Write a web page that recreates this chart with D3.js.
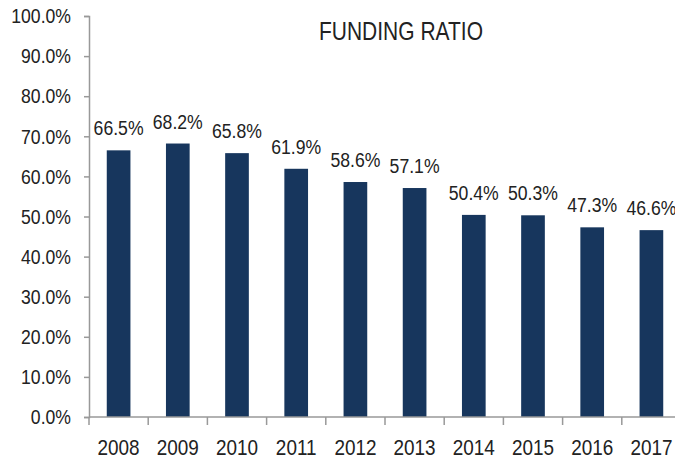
<!DOCTYPE html>
<html>
<head>
<meta charset="utf-8">
<title>Funding Ratio</title>
<script src="https://d3js.org/d3.v7.min.js"></script>
<style>
  body { margin: 0; background: #fff; }
  text { font-family: "Liberation Sans Narrow", "Arial Narrow", "Liberation Sans", sans-serif; fill: #222; }
</style>
</head>
<body>
<div id="chart"></div>
<script>
// data
const years = ["2008", "2009", "2010", "2011", "2012", "2013", "2014", "2015", "2016", "2017"];
const ratios = [66.5, 68.2, 65.8, 61.9, 58.6, 57.1, 50.4, 50.3, 47.3, 46.6];
const yTicks = [0, 10, 20, 30, 40, 50, 60, 70, 80, 90, 100];

const W = 675, H = 460;
const margin = {top: 16, right: -6, bottom: 43, left: 89};
const squeeze = 0.84; // condensed look of the original font

const svg = d3.select("#chart").append("svg")
    .attr("width", W).attr("height", H);

const x = d3.scaleBand()
    .domain(years)
    .range([margin.left, W - margin.right])
    .paddingInner(0.6).paddingOuter(0.3);

const y = d3.scaleLinear()
    .domain([0, 100])
    .range([H - margin.bottom, margin.top]);

const rows = years.map((d, i) => ({year: d, v: ratios[i]}));

// bars
svg.selectAll("rect.bar")
    .data(rows)
    .join("rect")
    .attr("class", "bar")
    .attr("x", d => x(d.year))
    .attr("y", d => y(d.v))
    .attr("width", x.bandwidth())
    .attr("height", d => y(0) - y(d.v))
    .attr("fill", "#17365d");

// value labels
svg.selectAll("text.val")
    .data(rows)
    .join("text")
    .attr("class", "val")
    .attr("transform", d => `translate(${x(d.year) + x.bandwidth() / 2},${y(d.v) - 15}) scale(${squeeze},1)`)
    .attr("text-anchor", "middle")
    .style("font-size", "21px")
    .text(d => d.v.toFixed(1) + "%");

// y axis
const yAxis = svg.append("g")
    .attr("transform", `translate(${margin.left},0)`)
    .call(d3.axisLeft(y).tickValues(yTicks).tickSize(5)
        .tickFormat(d => d.toFixed(1) + "%"));
yAxis.select(".domain").attr("stroke", "#999").attr("stroke-width", 1.5);
yAxis.selectAll(".tick line").attr("stroke", "#999").attr("stroke-width", 1.5);
yAxis.selectAll(".tick text")
    .attr("x", -18 / squeeze)
    .attr("transform", `scale(${squeeze},1)`)
    .style("font-size", "21px").attr("fill", "#222");

// x axis, ticks at band boundaries
const step = x.step();
const xAxis = svg.append("g")
    .attr("transform", `translate(0,${y(0)})`);
xAxis.append("line")
    .attr("x1", margin.left).attr("x2", W)
    .attr("stroke", "#999").attr("stroke-width", 1.5);
xAxis.selectAll("line.tk")
    .data(d3.range(years.length + 1))
    .join("line")
    .attr("class", "tk")
    .attr("x1", i => margin.left + i * step)
    .attr("x2", i => margin.left + i * step)
    .attr("y1", 0).attr("y2", 8)
    .attr("stroke", "#999").attr("stroke-width", 1.5);
xAxis.selectAll("text.yr")
    .data(years)
    .join("text")
    .attr("class", "yr")
    .attr("transform", d => `translate(${x(d) + x.bandwidth() / 2},38) scale(0.86,1)`)
    .attr("text-anchor", "middle")
    .style("font-size", "22px")
    .text(d => d);

// title
svg.append("text")
    .attr("transform", `translate(401,40) scale(${squeeze},1)`)
    .attr("text-anchor", "middle")
    .style("font-size", "25px")
    .text("FUNDING RATIO");
</script>
</body>
</html>
